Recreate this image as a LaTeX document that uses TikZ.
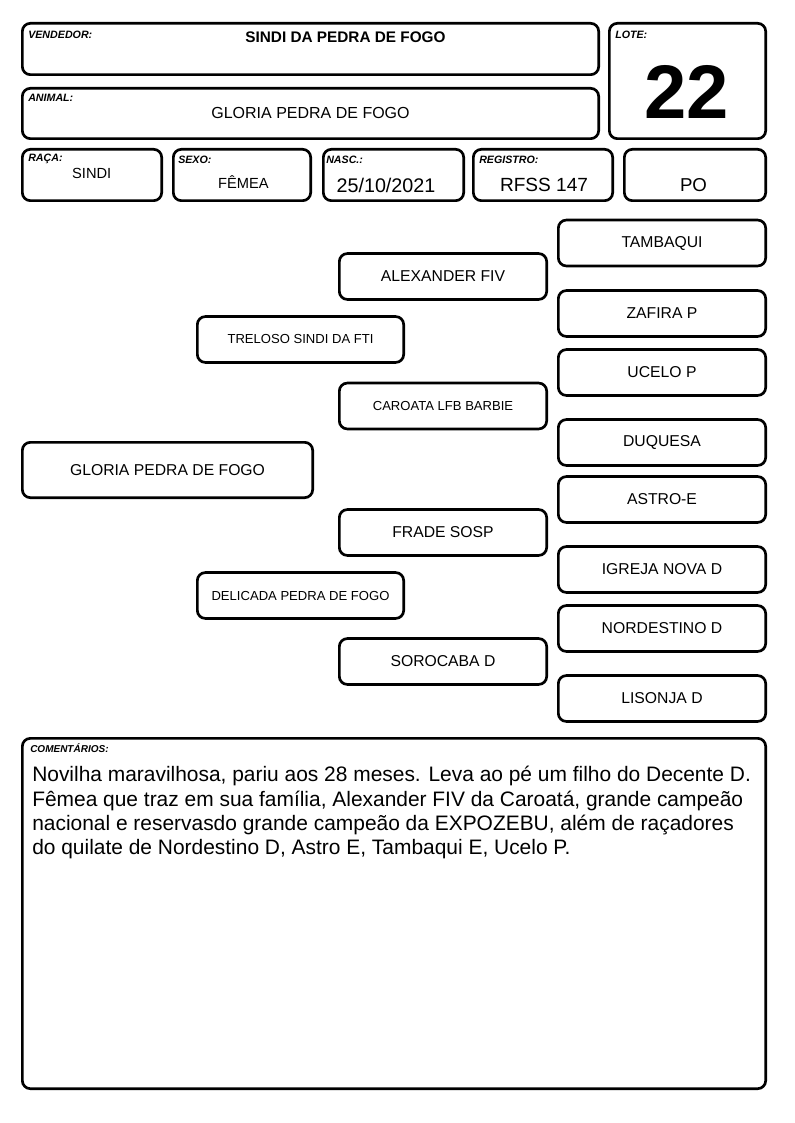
\documentclass[tikz,border=0pt]{standalone}
\usepackage{fontspec}
\setmainfont{Liberation Sans}
\usetikzlibrary{fit}
\begin{document}
\begin{tikzpicture}[x=0.75pt,y=-0.75pt,
  box/.style={draw=black, line width=2pt, rounded corners=6pt, inner sep=-1pt},
  lbl/.style={anchor=base west, inner sep=0, font=\fontsize{8}{9.6}\selectfont\bfseries\itshape},
  val/.style={anchor=base, inner sep=0},
  ped/.style={draw=black, line width=2pt, rounded corners=6pt, inner sep=0,
    minimum width=155.5pt, minimum height=34.4pt, font=\fontsize{11.8}{13}\selectfont},
  peds/.style={ped, font=\fontsize{9.8}{11}\selectfont}]
\useasboundingbox (0,0) rectangle (794,1123);

% header boxes
\node[box, fit={(21,22) (600,76)}] (vend) {};
\node[lbl] (vendl) at (28,39) {VENDEDOR:};
\node[val, font=\fontsize{11.5}{13}\selectfont\bfseries] (vendv) at (345.5,42.3) {SINDI DA PEDRA DE FOGO};

\node[box, fit={(21,87) (600,140)}] (anim) {};
\node[lbl] (animl) at (28,102) {ANIMAL:};
\node[val, font=\fontsize{12}{14}\selectfont] (animv) at (310.5,119) {GLORIA PEDRA DE FOGO};

\node[box, fit={(608,22) (767,140)}] (lote) {};
\node[lbl] (lotel) at (615,39) {LOTE:};
\node[val, font=\fontsize{57}{60}\selectfont\bfseries] (lotev) at (686.7,119) {22};

\node[box, fit={(21,148) (163,202)}] (raca) {};
\node[lbl] (racal) at (28,162) {RAÇA:};
\node[val, font=\fontsize{11}{13}\selectfont] (racav) at (91.7,178.3) {SINDI};

\node[box, fit={(172,148) (312,202)}] (sexo) {};
\node[lbl] (sexol) at (178,164) {SEXO:};
\node[val, font=\fontsize{11}{13}\selectfont] (sexov) at (243.5,189) {FÊMEA};

\node[box, fit={(322,148) (465,202)}] (nasc) {};
\node[lbl] (nascl) at (326,164) {NASC.:};
\node[val, font=\fontsize{14.8}{17}\selectfont] (nascv) at (386,192.3) {25/10/2021};

\node[box, fit={(472,148) (614,202)}] (reg) {};
\node[lbl] (regl) at (479,164) {REGISTRO:};
\node[val, font=\fontsize{14.3}{17}\selectfont] (regv) at (544,191.7) {RFSS 147};

\node[box, fit={(623,148) (767,202)}] (po) {};
\node[val, font=\fontsize{14}{17}\selectfont] (pov) at (693.5,191.7) {PO};

% pedigree
\node[ped, minimum width=217.75pt, minimum height=41.5pt] (animal) at (167.5,470) {GLORIA PEDRA DE FOGO};

\node[peds, minimum width=154.75pt] (pai) at (300.5,339.5) {TRELOSO SINDI DA FTI};
\node[peds, minimum width=154.75pt] (mae) at (300.5,595.5) {DELICADA PEDRA DE FOGO};

\node[ped] (avopp) at (443,276.5) {ALEXANDER FIV};
\node[peds] (avopm) at (443,406) {CAROATA LFB BARBIE};
\node[ped] (avomp) at (443,532.5) {FRADE SOSP};
\node[ped] (avomm) at (443,661.5) {SOROCABA D};

\node[ped] (b1) at (662,243) {TAMBAQUI};
\node[ped] (b2) at (662,313.5) {ZAFIRA P};
\node[ped] (b3) at (662,372.5) {UCELO P};
\node[ped] (b4) at (662,442.5) {DUQUESA};
\node[ped] (b5) at (662,499.5) {ASTRO-E};
\node[ped] (b6) at (662,569.5) {IGREJA NOVA D};
\node[ped] (b7) at (662,628.5) {NORDESTINO D};
\node[ped] (b8) at (662,698.5) {LISONJA D};

% comments
\node[box, fit={(21,737) (767,1090)}] (com) {};
\node[lbl, font=\fontsize{7.5}{9}\selectfont\bfseries\itshape] (coml) at (30,752.5) {COMENTÁRIOS:};
\node[anchor=north west, inner sep=0, align=left, font=\fontsize{15.7}{18.3}\selectfont] (comv) at (32,766)
 {Novilha maravilhosa, pariu aos 28 meses. Leva ao pé um filho do Decente D.\\
  Fêmea que traz em sua família, Alexander FIV da Caroatá, grande campeão\\
  nacional e reservasdo grande campeão da EXPOZEBU, além de raçadores\\
  do quilate de Nordestino D, Astro E, Tambaqui E, Ucelo P.};
\end{tikzpicture}
\end{document}
